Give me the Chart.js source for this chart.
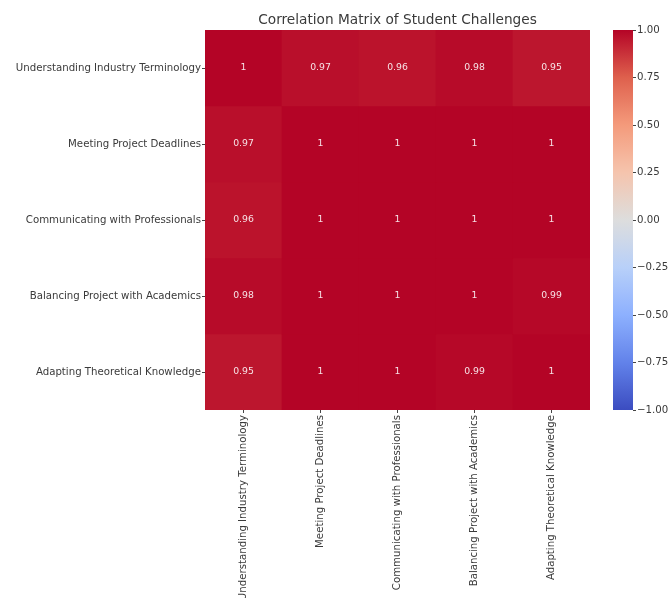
<!DOCTYPE html>
<html>
<head>
<meta charset="utf-8">
<script src="https://cdn.jsdelivr.net/npm/chart.js@4.4.1/dist/chart.umd.min.js"></script>
<style>
  html, body { margin: 0; padding: 0; background: #ffffff; }
  #wrap { position: relative; width: 670px; height: 598px; overflow: hidden; }
  #heat { position: absolute; left: 0; top: 0; }
  #cbar { position: absolute; left: 600px; top: 0; }
</style>
</head>
<body>
<div id="wrap">
  <canvas id="heat" width="670" height="598"></canvas>
  <canvas id="cbar" width="70" height="598"></canvas>
</div>
<script>
// Challenge names (rows top to bottom, columns left to right)
const challenges = [
  'Understanding Industry Terminology',
  'Meeting Project Deadlines',
  'Communicating with Professionals',
  'Balancing Project with Academics',
  'Adapting Theoretical Knowledge'
];

// Pairwise correlation values, one array per row
const rowTerminology = [1, 0.97, 0.96, 0.98, 0.95];
const rowDeadlines   = [0.97, 1, 1, 1, 1];
const rowCommunicate = [0.96, 1, 1, 1, 1];
const rowBalancing   = [0.98, 1, 1, 1, 0.99];
const rowAdapting    = [0.95, 1, 1, 0.99, 1];
const corrRows = [rowTerminology, rowDeadlines, rowCommunicate, rowBalancing, rowAdapting];

// Colour bar range and tick values
const scaleMin = -1;
const scaleMax = 1;
const scaleStep = 0.25;

const FONT = 'DejaVu Sans';
const TEXT = '#3a3a3a';
const TICK_SIZE = 10.2;

// coolwarm colour map anchors
const coolwarmStops = [
  [0.000, [59, 76, 192]],
  [0.125, [98, 130, 234]],
  [0.250, [141, 176, 254]],
  [0.375, [184, 208, 249]],
  [0.500, [221, 221, 221]],
  [0.625, [245, 196, 173]],
  [0.750, [244, 154, 123]],
  [0.875, [222, 96, 77]],
  [1.000, [180, 4, 38]]
];
function coolwarm(t) {
  t = Math.max(0, Math.min(1, t));
  for (let i = 1; i < coolwarmStops.length; i++) {
    const [t1, c1] = coolwarmStops[i];
    const [t0, c0] = coolwarmStops[i - 1];
    if (t <= t1) {
      const f = (t - t0) / (t1 - t0);
      const c = c0.map((v, k) => Math.round(v + (c1[k] - v) * f));
      return `rgb(${c[0]},${c[1]},${c[2]})`;
    }
  }
  return 'rgb(180,4,38)';
}
const colorFor = v => coolwarm((v - scaleMin) / (scaleMax - scaleMin));

const n = challenges.length;

// Each matrix row is a dataset of floating bars spanning one unit of the y scale
const datasets = corrRows.map((row, r) => ({
  data: row.map(() => [n - 1 - r, n - r]),
  backgroundColor: row.map(colorFor),
  borderWidth: 0,
  borderSkipped: false,
  grouped: false,
  barPercentage: 1,
  categoryPercentage: 1
}));

// Writes each correlation value in the middle of its cell
const cellLabels = {
  id: 'cellLabels',
  afterDatasetsDraw(chart) {
    const ctx = chart.ctx;
    ctx.save();
    ctx.font = `9.3px "${FONT}"`;
    ctx.fillStyle = 'rgba(255,255,255,0.88)';
    ctx.textAlign = 'center';
    ctx.textBaseline = 'middle';
    chart.data.datasets.forEach((ds, r) => {
      chart.getDatasetMeta(r).data.forEach((bar, c) => {
        const y = (bar.y + bar.base) / 2;
        ctx.fillText(String(corrRows[r][c]), bar.x, y);
      });
    });
    ctx.restore();
  }
};

const tickGrid = {
  display: true,
  drawOnChartArea: false,
  drawTicks: true,
  tickLength: 3,
  tickWidth: 1,
  tickColor: '#444',
  offset: false
};

new Chart(document.getElementById('heat'), {
  type: 'bar',
  data: { labels: challenges, datasets },
  plugins: [cellLabels],
  options: {
    responsive: false,
    animation: false,
    events: [],
    layout: { padding: { left: 0, right: 80, top: 0, bottom: 0 } },
    plugins: {
      legend: { display: false },
      tooltip: { enabled: false },
      title: {
        display: true,
        fullSize: false,
        text: 'Correlation Matrix of Student Challenges',
        color: TEXT,
        font: { family: FONT, size: 13.7, weight: 'normal', lineHeight: '16px' },
        padding: { top: 12, bottom: 2 }
      }
    },
    scales: {
      x: {
        type: 'category',
        grid: tickGrid,
        border: { display: false },
        ticks: {
          autoSkip: false,
          minRotation: 90,
          maxRotation: 90,
          padding: 2,
          color: TEXT,
          font: { family: FONT, size: TICK_SIZE }
        },
        afterFit(s) { s.height = 188; }
      },
      y: {
        type: 'linear',
        min: 0,
        max: n,
        grid: tickGrid,
        border: { display: false },
        afterBuildTicks(s) {
          s.ticks = challenges.map((_, i) => ({ value: n - 0.5 - i }));
        },
        ticks: {
          padding: 1,
          color: TEXT,
          font: { family: FONT, size: TICK_SIZE },
          callback: (v, i) => challenges[i]
        },
        afterFit(s) { s.width = 205; }
      }
    }
  }
});

// Colour bar: one floating bar covering the full value range, filled with the map
new Chart(document.getElementById('cbar'), {
  type: 'bar',
  data: {
    labels: [''],
    datasets: [{
      data: [[scaleMin, scaleMax]],
      borderWidth: 0,
      borderSkipped: false,
      barPercentage: 1,
      categoryPercentage: 1,
      backgroundColor(ctx) {
        const area = ctx.chart.chartArea;
        if (!area) return 'rgb(221,221,221)';
        const g = ctx.chart.ctx.createLinearGradient(0, area.bottom, 0, area.top);
        for (let i = 0; i <= 32; i++) g.addColorStop(i / 32, coolwarm(i / 32));
        return g;
      }
    }]
  },
  options: {
    responsive: false,
    animation: false,
    events: [],
    layout: { padding: { left: 13, right: 0, top: 30, bottom: 188 } },
    plugins: { legend: { display: false }, tooltip: { enabled: false } },
    scales: {
      x: { display: false },
      y: {
        position: 'right',
        min: scaleMin,
        max: scaleMax,
        grid: { display: true, drawOnChartArea: false, drawTicks: true, tickLength: 3, tickColor: '#444', tickWidth: 1 },
        border: { display: false },
        ticks: {
          stepSize: scaleStep,
          padding: 1,
          color: TEXT,
          font: { family: FONT, size: TICK_SIZE },
          callback: v => (v < 0 ? '\u2212' : '') + Math.abs(v).toFixed(2)
        },
        afterFit(s) { s.width = 37; }
      }
    }
  }
});
</script>
</body>
</html>
